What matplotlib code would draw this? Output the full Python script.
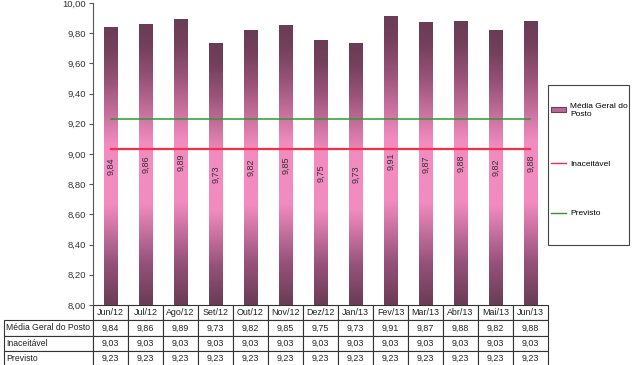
import numpy as np
import matplotlib.pyplot as plt
from matplotlib.colors import LinearSegmentedColormap
from matplotlib.patches import Patch, Rectangle
from matplotlib.lines import Line2D

plt.rcParams['font.family'] = ['Liberation Sans', 'DejaVu Sans']

meses = ['Jun/12', 'Jul/12', 'Ago/12', 'Set/12', 'Out/12', 'Nov/12', 'Dez/12',
         'Jan/13', 'Fev/13', 'Mar/13', 'Abr/13', 'Mai/13', 'Jun/13']
media = [9.84, 9.86, 9.89, 9.73, 9.82, 9.85, 9.75, 9.73, 9.91, 9.87, 9.88, 9.82, 9.88]
inaceitavel = [9.03] * 13
previsto = [9.23] * 13
nomes = ['Média Geral do Posto', 'Inaceitável', 'Previsto']

def fmt(v):
    return f'{v:.2f}'.replace('.', ',')

W, H = 633, 365
fig = plt.figure(figsize=(W / 100, H / 100), dpi=100)
ax = fig.add_axes([93 / W, (H - 305) / H, 455 / W, 302 / H])

x = np.arange(len(meses))
cmap = LinearSegmentedColormap.from_list('rosa', [
    (0.0, '#6a3c55'), (0.15, '#96527a'), (0.36, '#f28bbf'),
    (0.58, '#f28bbf'), (0.8, '#9a5479'), (0.92, '#74405c'), (1.0, '#6a3c55')])
grad = np.linspace(0, 1, 256).reshape(-1, 1)

bars = ax.bar(x, np.array(media) - 8, bottom=8, width=0.38, color='none', edgecolor='none', zorder=2)
for b, v in zip(bars, media):
    bx, by = b.get_xy()
    bw, bh = b.get_width(), b.get_height()
    ax.imshow(grad, extent=[bx, bx + bw, by, by + bh], aspect='auto', cmap=cmap,
              origin='lower', zorder=2, interpolation='bilinear')
    ax.text(bx + bw / 2, by + bh / 2, fmt(v), rotation=90, ha='center', va='center',
            fontsize=6.5, color='#333333', zorder=4)

ax.plot(x, inaceitavel, color='#f0304c', lw=1.6, zorder=3)
ax.plot(x, previsto, color='#2e9a2e', lw=1.1, zorder=3)

ax.set_xlim(-0.5, len(meses) - 0.5)
ax.set_ylim(8, 10)
ax.set_yticks(np.arange(8, 10.01, 0.2))
ax.set_yticklabels([fmt(v) for v in np.arange(8, 10.01, 0.2)], fontsize=6.8, color='#333333')
ax.set_xticks([])
ax.tick_params(axis='y', length=3, color='#555555', pad=2)
for s in ['top', 'right', 'bottom']:
    ax.spines[s].set_visible(False)
ax.spines['left'].set_color('#555555')

# data table under the chart
cells = [[''] + meses]
for nome, serie in zip(nomes, [media, inaceitavel, previsto]):
    cells.append([nome] + [fmt(v) for v in serie])
widths = [89] + [35] * 13
tab = ax.table(cellText=cells, colWidths=[w / sum(widths) for w in widths],
               cellLoc='center', bbox=[-89 / 455, -61 / 302, 544 / 455, 61 / 302])
tab.auto_set_font_size(False)
tab.set_fontsize(6.4)
for (r, c), cell in tab.get_celld().items():
    cell.set_edgecolor('#333333')
    cell.set_linewidth(0.8)
    cell.get_text().set_color('#222222')
    if c == 0:
        cell.PAD = 0.02
        cell.get_text().set_ha('left')
        cell.get_text().set_fontsize(6.2)
        cell._loc = 'left'
    if r == 0 and c == 0:
        cell.visible_edges = ''

# legend box at the right
fig.patches.append(Rectangle((548 / W, (H - 245) / H), 81 / W, 160 / H, transform=fig.transFigure,
                             fill=False, edgecolor='#444444', lw=0.8))
handles = [Patch(facecolor='#b8689a', edgecolor='#6c3d56', lw=0.8),
           Line2D([], [], color='#f0304c', lw=1.0),
           Line2D([], [], color='#2e9a2e', lw=1.0)]
labels = ['Média Geral do\nPosto', 'Inaceitável', 'Previsto']
fig.legend(handles, labels, loc='center left', bbox_to_anchor=(551 / W, 1 - 160 / H),
           fontsize=6, frameon=False, handlelength=1.8, handleheight=0.5,
           handletextpad=0.5, labelspacing=5.1, borderpad=0, borderaxespad=0)

fig.savefig('out.png', dpi=100)
